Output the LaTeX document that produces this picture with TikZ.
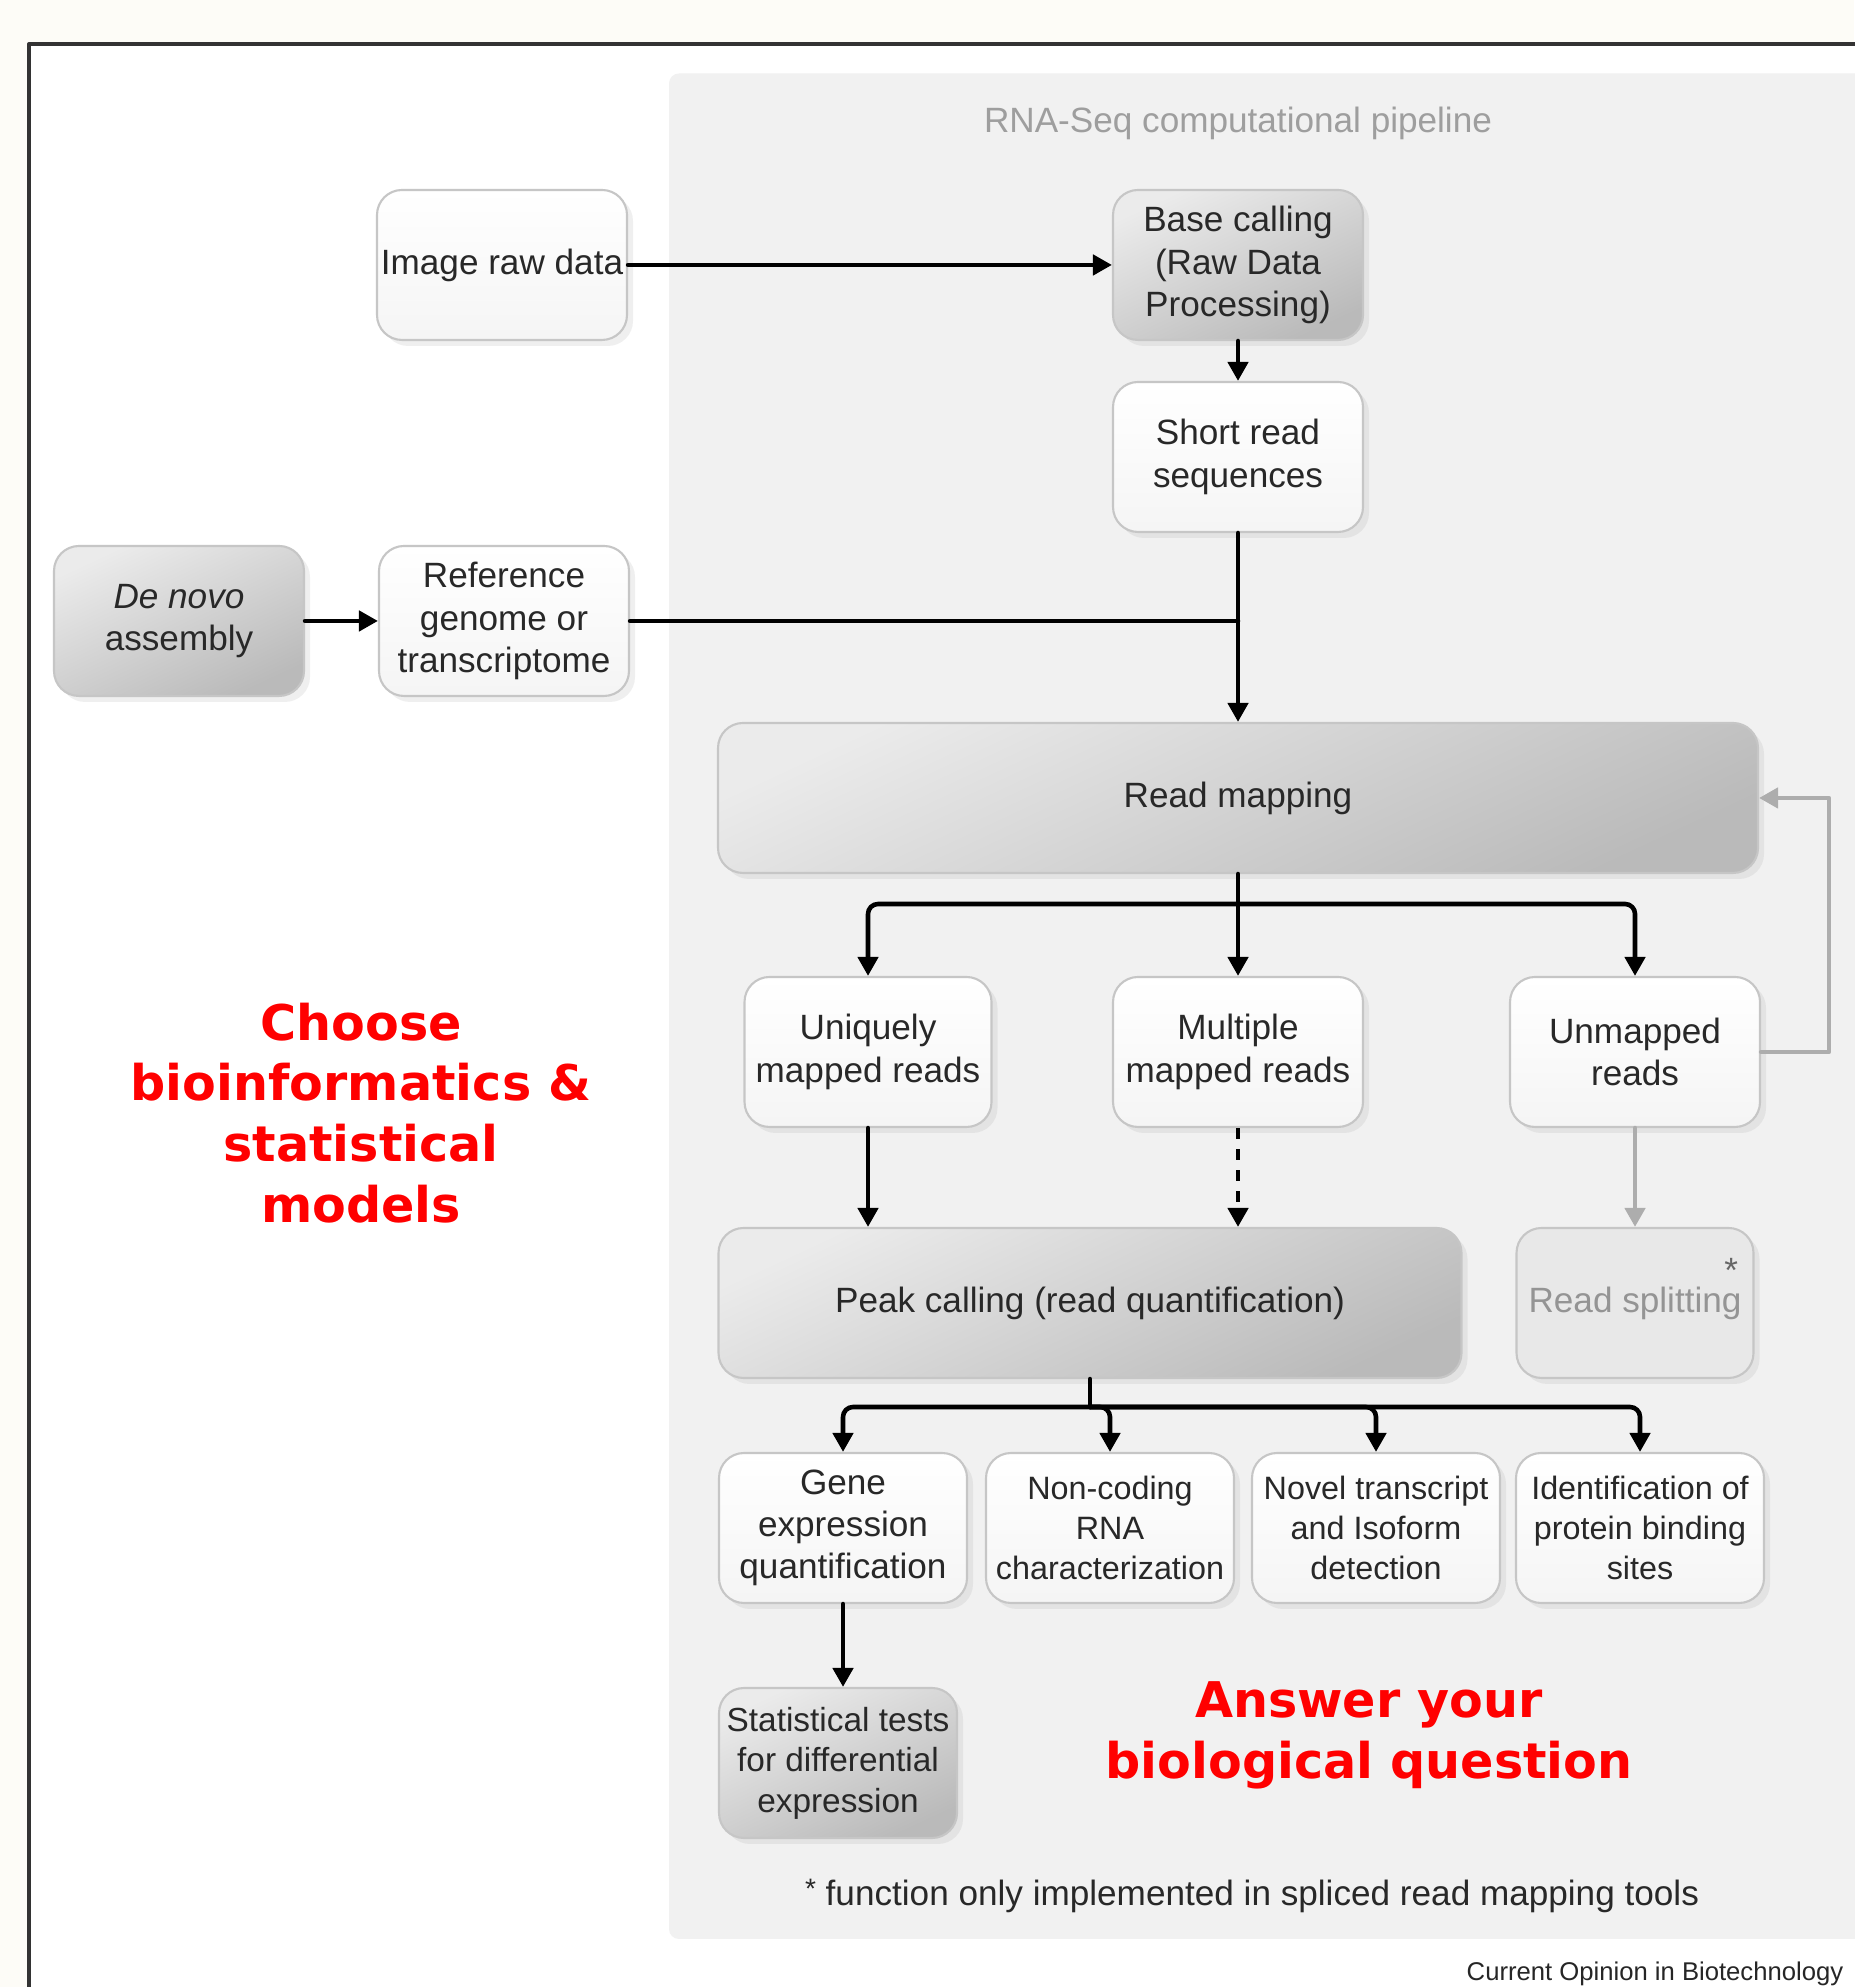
\documentclass[tikz,border=0pt]{standalone}
\usepackage{fontspec}
\setmainfont{Liberation Sans}
\newfontfamily\redfont{DejaVu Sans}
\usetikzlibrary{arrows.meta,shadows,positioning}

\definecolor{cream}{RGB}{253,252,247}
\definecolor{panel}{RGB}{241,241,241}
\definecolor{boxline}{RGB}{198,198,198}
\definecolor{boxtext}{RGB}{40,40,40}

\tikzset{
  box/.style={rectangle,rounded corners=2.5mm,draw=boxline,line width=0.6pt,
    align=center,text=boxtext,minimum width=2.5cm,minimum height=1.5cm,inner sep=1pt,
    drop shadow={shadow xshift=0.6mm,shadow yshift=-0.6mm,opacity=0.12}},
  whitebox/.style={box,top color=white,bottom color=black!4},
  graybox/.style={box,top color=black!8,bottom color=black!27,shading angle=25},
  flow/.style={-{Triangle[length=1.9mm,width=2mm]},line width=1.3pt},
  back/.style={-{Triangle[length=1.9mm,width=2mm]},line width=1.3pt,draw=black!32},
  redtext/.style={align=center,text=red,font=\redfont\bfseries\fontsize{14}{17.3}\selectfont},
}

\begin{document}
\begin{tikzpicture}[line cap=round,line join=round,x=1cm,y=1cm,font=\fontsize{10}{12}\selectfont]
\useasboundingbox (0,0) rectangle (18.54,19.87);
% page, frame and pipeline panel
\fill[cream] (0,0) rectangle (18.54,19.87);
\fill[white] (0.29,0) rectangle (19,19.43);
\draw[line width=1.1pt,black!80] (0.29,-0.1) -- (0.29,19.43) -- (19,19.43);
\fill[panel,rounded corners=1mm] (6.69,0.48) rectangle (19.5,19.135);

\node[text=black!38] (title) at (12.38,18.64) {RNA-Seq computational pipeline};

% upper part
\node[whitebox] (img) at (5.02,17.22) {Image raw data};
\node[graybox] (basecall) at (12.38,17.22) {Base calling\\(Raw Data\\Processing)};
\node[whitebox] (shortread) at (12.38,15.30) {Short read\\sequences};
\node[graybox] (denovo) at (1.79,13.66) {\textit{De novo}\\assembly};
\node[whitebox] (refgen) at (5.04,13.66) {Reference\\genome or\\transcriptome};
\node[graybox,minimum width=10.4cm] (mapping) at (12.38,11.89) {Read mapping};

% mapped reads
\node[whitebox,minimum width=2.47cm] (uniq) at (8.68,9.35) {Uniquely\\mapped reads};
\node[whitebox] (multi) at (12.38,9.35) {Multiple\\mapped reads};
\node[whitebox] (unmapped) at (16.35,9.35) {Unmapped\\reads};

\node[graybox,minimum width=7.43cm] (peak) at (10.90,6.84) {Peak calling (read quantification)};
\node[box,fill=black!9,text=black!42,minimum width=2.37cm] (split) at (16.35,6.84)
  {Read splitting\llap{\smash{\raisebox{1.6ex}{\textcolor{black!60}{*}}}\kern1pt}};

% applications
\node[whitebox,minimum width=2.48cm] (geneexp) at (8.43,4.59) {Gene\\expression\\quantification};
\node[whitebox,minimum width=2.48cm,font=\fontsize{9.2}{11.5}\selectfont] (ncrna) at (11.10,4.59) {Non-coding\\RNA\\characterization};
\node[whitebox,minimum width=2.48cm,font=\fontsize{9.2}{11.5}\selectfont] (novel) at (13.76,4.59) {Novel transcript\\and Isoform\\detection};
\node[whitebox,minimum width=2.48cm,font=\fontsize{9.2}{11.5}\selectfont] (protbind) at (16.40,4.59) {Identification of\\protein binding\\sites};
\node[graybox,minimum width=2.38cm,font=\fontsize{9.5}{11.5}\selectfont] (stats) at (8.38,2.24) {Statistical tests\\for differential\\expression};

% red remarks
\node[redtext] (choose) at (3.61,8.74) {Choose\\bioinformatics \&\\statistical\\models};
\node[redtext] (answer) at (13.69,2.52) {Answer your\\biological question};

\node[text=boxtext] (footnote) at (12.52,0.91) {\raisebox{0.4ex}{\footnotesize *} function only implemented in spliced read mapping tools};
\node[anchor=west,text=black!85,font=\fontsize{7.3}{9}\selectfont,inner sep=0pt] (journal) at (14.66,0.13) {Current Opinion in Biotechnology};

% connectors
\draw[flow] (img) -- (basecall);
\draw[flow] (basecall) -- (shortread);
\draw[flow] (denovo) -- (refgen);
\draw[flow] (shortread) -- (mapping);
\draw[line width=1.3pt] (refgen.east) -- (refgen.east -| shortread.south);

\coordinate (msplit) at (12.38,10.83);
\draw[flow] (mapping) -- (multi);
\foreach \t in {uniq,unmapped}
  \draw[flow,rounded corners=1mm] (msplit) -| (\t.north);

\draw[back] (unmapped.east) -- ++(0.68,0) |- (mapping.east);
\draw[back] (unmapped) -- (split);
\draw[flow] (uniq.south) -- (uniq.south |- peak.north);
\draw[flow,dash pattern=on 3pt off 3pt,line cap=butt] (multi.south) -- (multi.south |- peak.north);

\coordinate (psplit) at (10.90,5.80);
\draw[line width=1.3pt] (peak.south) -- (psplit);
\foreach \t in {geneexp,ncrna,novel,protbind}
  \draw[flow,rounded corners=1mm] (psplit) -| (\t.north);
\draw[flow] (geneexp.south) -- (geneexp.south |- stats.north);
\end{tikzpicture}
\end{document}
